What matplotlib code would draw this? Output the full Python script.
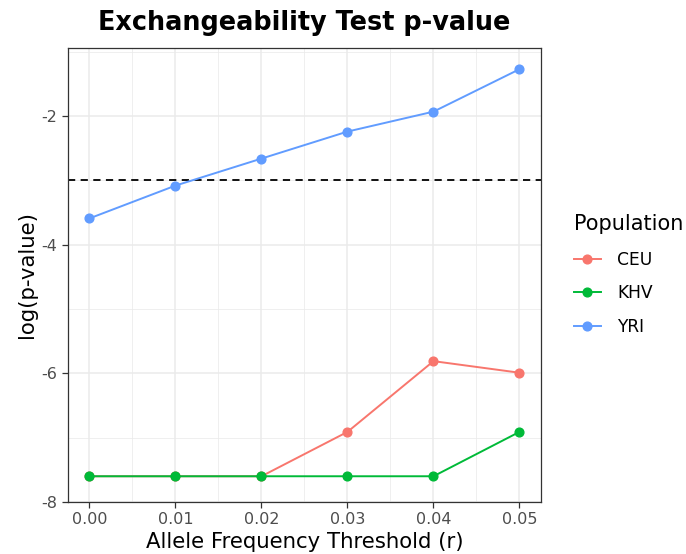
import matplotlib
matplotlib.use('Agg')
import matplotlib.pyplot as plt
import numpy as np

# Data
thresholds = [0.00, 0.01, 0.02, 0.03, 0.04, 0.05]
ceu = [-7.60, -7.60, -7.60, -6.91, -5.81, -5.99]
khv = [-7.60, -7.60, -7.60, -7.60, -7.60, -6.91]
yri = [-3.59, -3.08, -2.66, -2.24, -1.93, -1.27]
populations = ['CEU', 'KHV', 'YRI']
cutoff = np.log(0.05)

colors = {'CEU': '#F8766D', 'KHV': '#00BA38', 'YRI': '#619CFF'}

fig = plt.figure(figsize=(6.86, 5.54), dpi=100)
ax = fig.add_axes([0.0991, 0.0939, 0.6895, 0.8195])

# ggplot-like theme_bw
ax.set_facecolor('white')
ax.set_xticks(thresholds)
ax.set_xticks(np.arange(0.005, 0.05, 0.01), minor=True)
ax.set_yticks([-8, -6, -4, -2])
ax.set_yticks([-7, -5, -3, -1], minor=True)
ax.grid(which='major', color='#EBEBEB', linewidth=1.1)
ax.grid(which='minor', color='#EBEBEB', linewidth=0.55)
ax.set_axisbelow(True)
for s in ax.spines.values():
    s.set_color('#333333')
    s.set_linewidth(0.9)

ax.axhline(cutoff, color='black', linestyle=(0, (4, 3)), linewidth=1.3, zorder=2)

for name, vals in zip(populations, [ceu, khv, yri]):
    ax.plot(thresholds, vals, color=colors[name], linewidth=1.4,
            marker='o', markersize=6.3, label=name, zorder=3)

ax.set_xlim(-0.0025, 0.0525)
ax.set_ylim(-8.0, -0.94)
ax.set_xticklabels(['%.2f' % t for t in thresholds])
ax.set_yticklabels(['-8', '-6', '-4', '-2'])
ax.tick_params(which='major', length=4, color='#333333', labelcolor='#4D4D4D',
               labelsize=11.5, width=0.9)
ax.tick_params(which='minor', length=0)

ax.set_xlabel('Allele Frequency Threshold (r)', fontsize=15.3, labelpad=3)
ax.set_ylabel('log(p-value)', fontsize=15.3, labelpad=3)
ax.set_title('Exchangeability Test p-value', fontsize=18.4, fontweight='bold', pad=13)

leg = ax.legend(title='Population', loc='center left', bbox_to_anchor=(1.055, 0.5),
                frameon=False, fontsize=12.3, title_fontsize=15.0, handlelength=1.6,
                labelspacing=0.9, borderaxespad=0, handletextpad=0.95)
leg._legend_box.align = 'left'
leg._legend_box.sep = 12

fig.savefig('out.png', dpi=100)
